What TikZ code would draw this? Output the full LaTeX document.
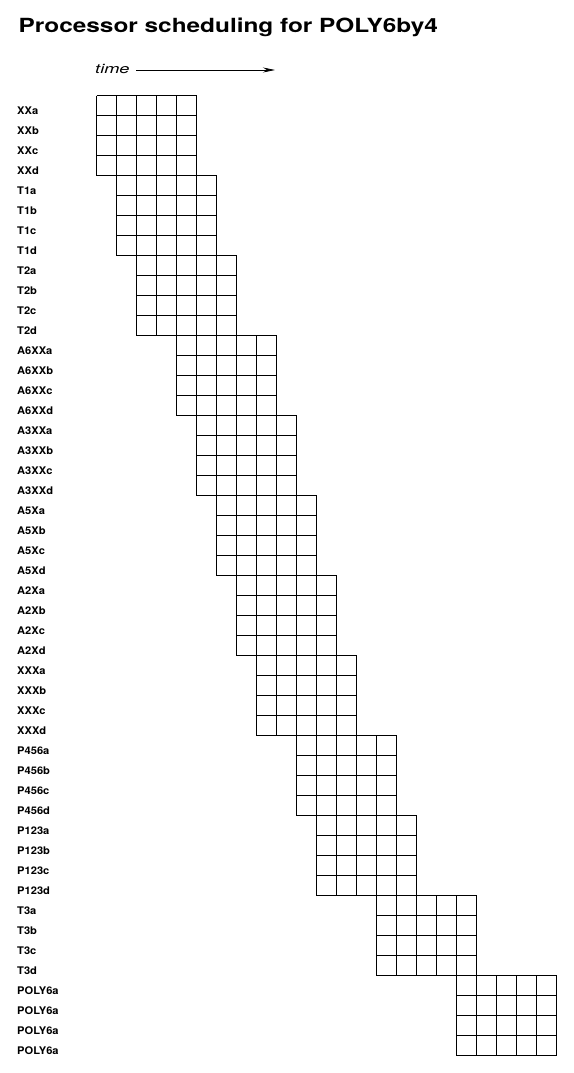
\documentclass[tikz,border=0pt]{standalone}
\usepackage{fontspec}
\setmainfont{TeX Gyre Heros}
\usepackage{graphicx}
\usetikzlibrary{arrows.meta}
\begin{document}
\begin{tikzpicture}[x=1pt,y=-1pt,
  cellline/.style={draw,line width=1pt},
  lab/.style={anchor=west,inner sep=0pt,font=\bfseries\fontsize{10.5}{10.5}\selectfont}]
\useasboundingbox (0,0) rectangle (573,1073);
\node[anchor=base west,inner sep=0pt] (title) at (18.5,32.5)
  {\scalebox{1.25}[1]{\fontsize{19.5}{19.5}\selectfont\bfseries Processor scheduling for POLY6by4}};
\node[anchor=base west,inner sep=0pt] (time) at (95,73.5)
  {\scalebox{1.4}[1]{\fontsize{13}{13}\selectfont\itshape time}};
\coordinate (tstart) at (136,70);
\coordinate (tend) at (275,70);
\draw[line width=0.8pt,-{Stealth[length=12pt,width=5pt]}] (tstart) -- (tend);
\foreach \g/\x in {0/96.5,1/116.5,2/136.5,3/176.5,4/196.5,5/216.5,6/236.5,7/256.5,8/296.5,9/316.5,10/376.5,11/456.5}{
  \pgfmathsetmacro{\y}{95.5+80*\g}
  \foreach \i in {0,...,5}{\draw[cellline] (\x+20*\i,\y) -- ++(0,80);}
  \foreach \j in {0,...,4}{\draw[cellline] (\x,\y+20*\j) -- ++(100,0);}
}
\foreach \name [count=\k from 0] in {XXa,XXb,XXc,XXd,T1a,T1b,T1c,T1d,T2a,T2b,T2c,T2d,A6XXa,A6XXb,A6XXc,A6XXd,A3XXa,A3XXb,A3XXc,A3XXd,A5Xa,A5Xb,A5Xc,A5Xd,A2Xa,A2Xb,A2Xc,A2Xd,XXXa,XXXb,XXXc,XXXd,P456a,P456b,P456c,P456d,P123a,P123b,P123c,P123d,T3a,T3b,T3c,T3d,POLY6a,POLY6a,POLY6a,POLY6a}{
  \node[lab] (l\k) at (17,110.5+20*\k) {\scalebox{1.06}[1]{\name}};
}
\end{tikzpicture}
\end{document}
